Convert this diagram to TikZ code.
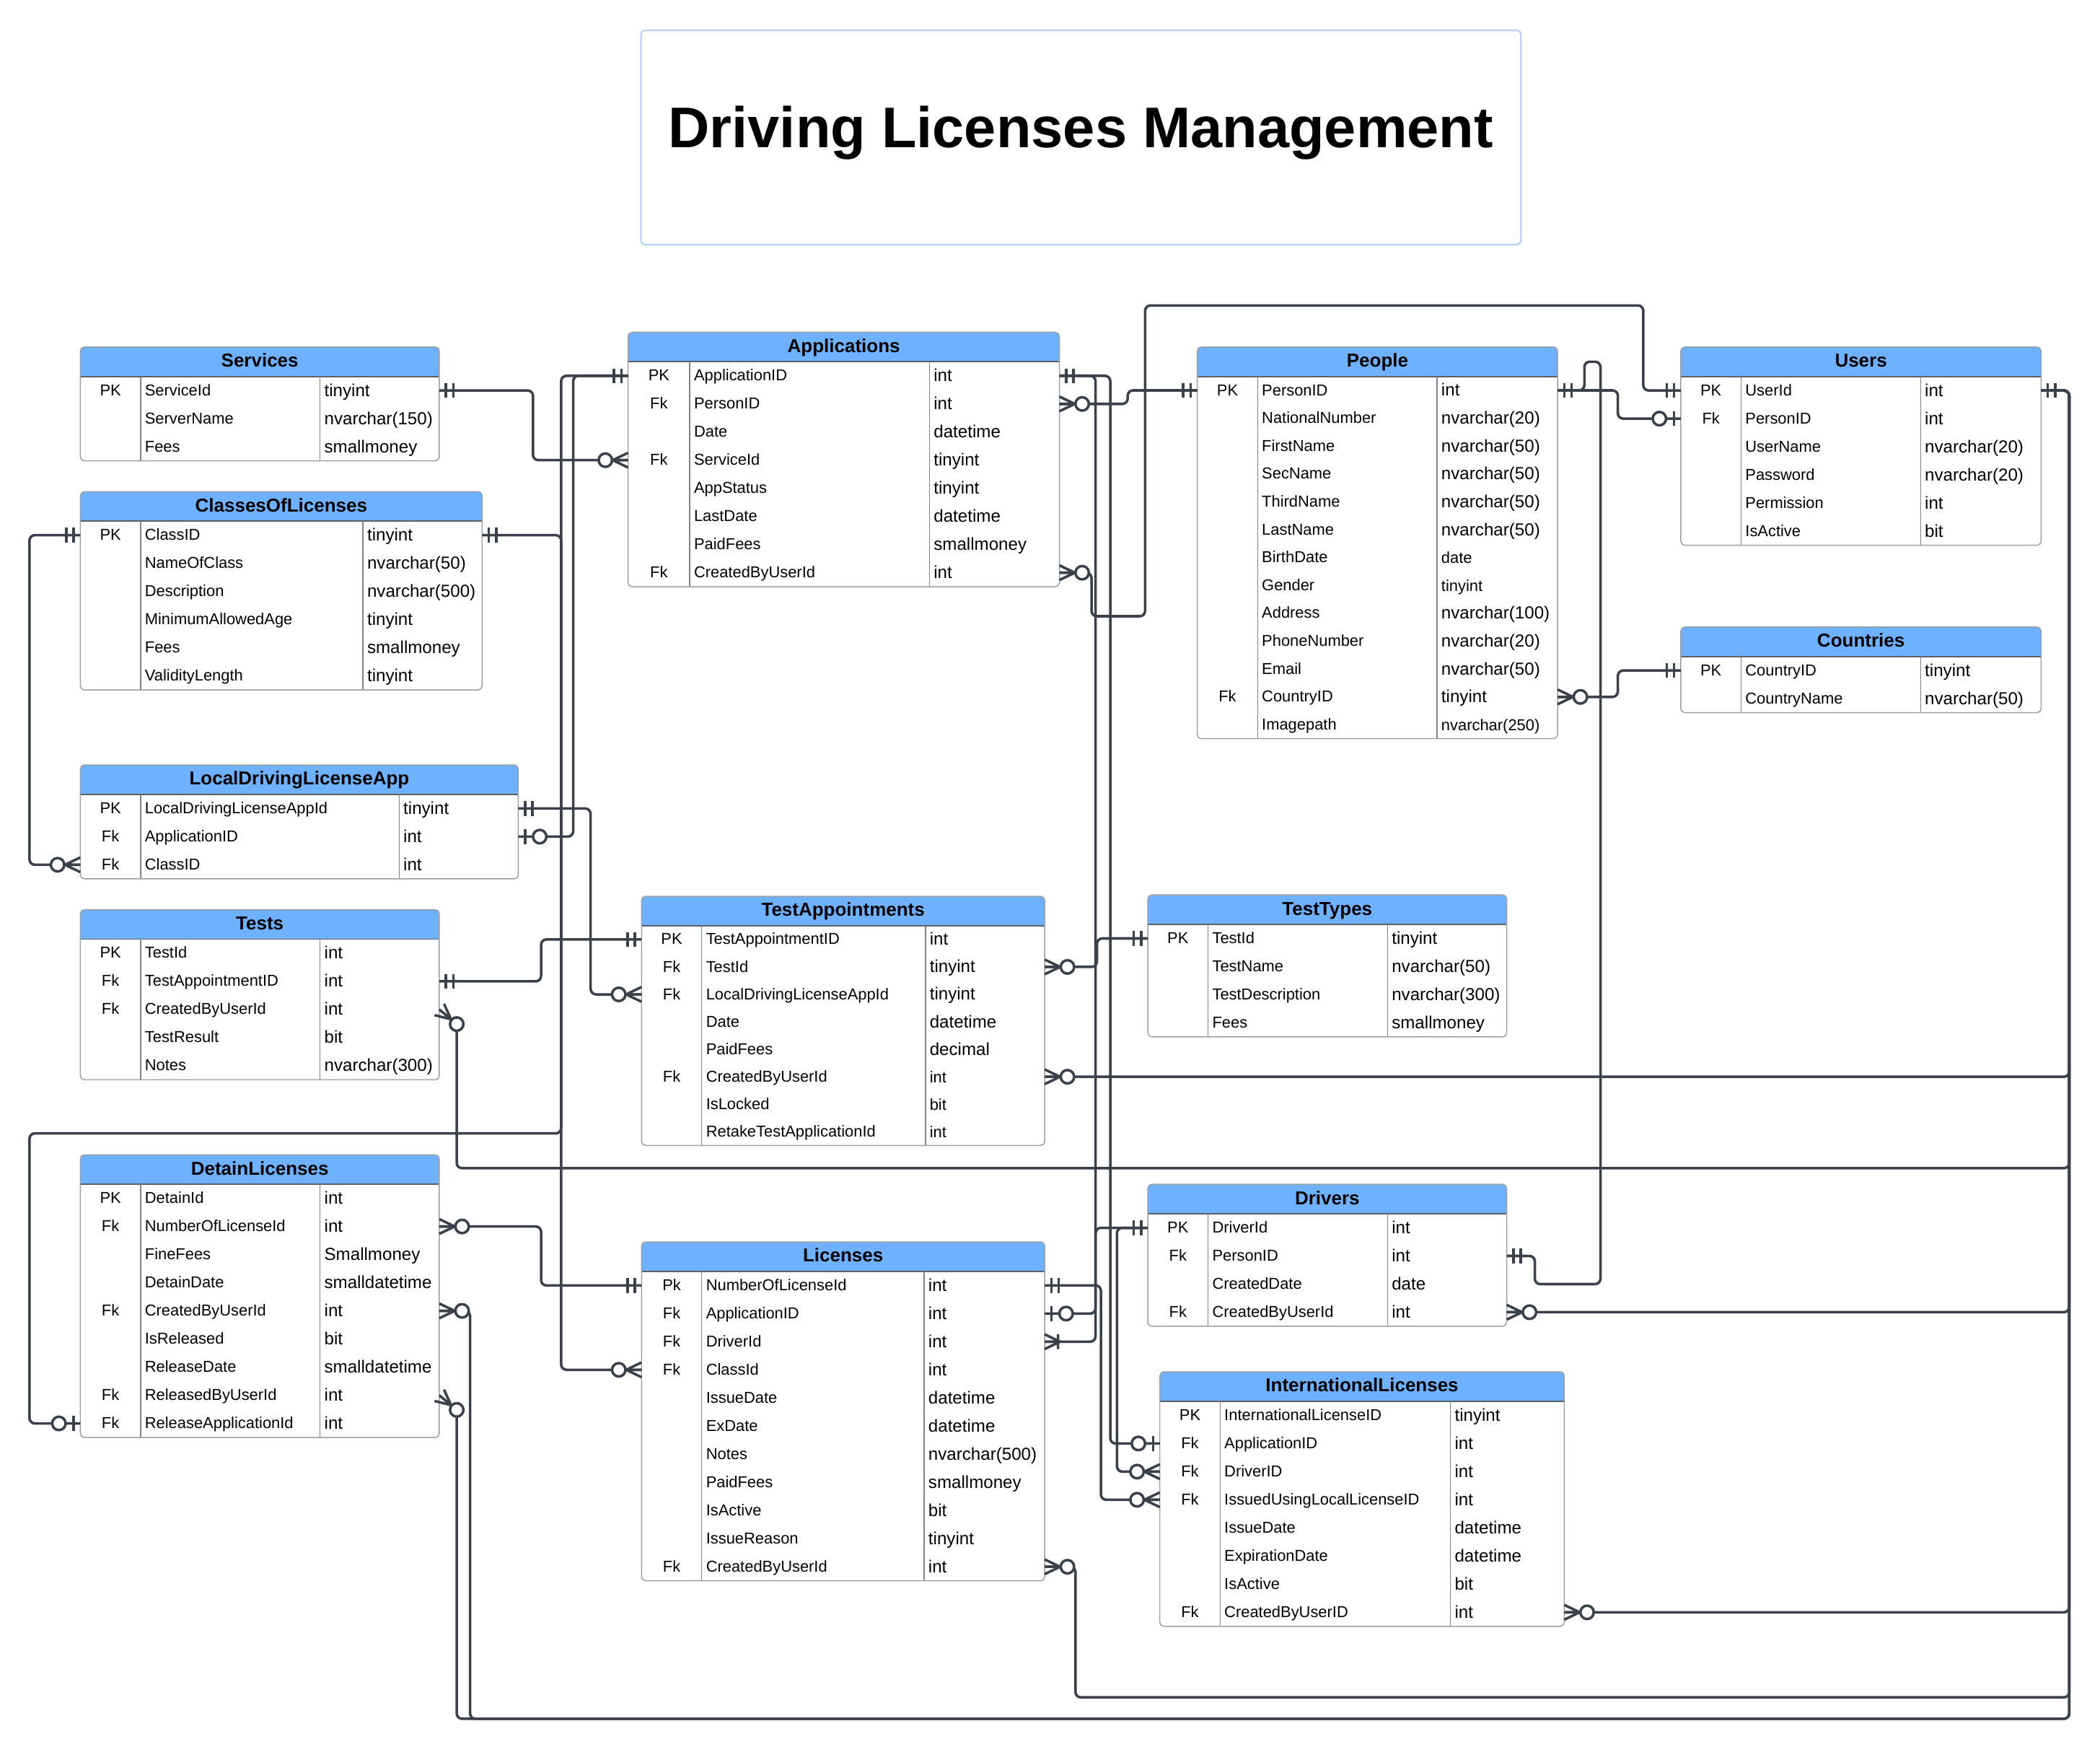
\documentclass[tikz,border=0pt]{standalone}
\usepackage{fontspec}
\setmainfont{Liberation Sans}
\definecolor{hdrblue}{HTML}{6DB1FF}
\definecolor{lnk}{HTML}{3A414B}
\definecolor{tborder}{HTML}{9AA0A6}
\definecolor{hdrline}{HTML}{59606A}
\definecolor{colline}{HTML}{7D838B}
\definecolor{titlebord}{HTML}{B5D5F8}

\newcommand\nk{}
\newcommand\smt[1]{{\fontsize{11.8}{13}\selectfont #1}}
\def\rh{21}

\tikzset{
  conn/.style={draw=lnk, line width=1.9pt, rounded corners=4pt, line join=round},
  mk/.style={draw=lnk, line width=1.9pt},
  tbox/.style={draw=tborder, line width=0.8pt, rounded corners=3pt, inner sep=0pt, outer sep=0pt},
  rowbox/.style={inner sep=0pt, outer sep=0pt, draw=none},
  hdrtext/.style={font=\fontsize{14}{16}\selectfont\bfseries, inner sep=0pt, anchor=base},
  keytext/.style={font=\fontsize{11.8}{13}\selectfont, inner sep=0pt, anchor=base},
  fldtext/.style={font=\fontsize{11.8}{13}\selectfont, inner sep=0pt, anchor=base west},
  typtext/.style={font=\fontsize{13}{15}\selectfont, inner sep=0pt, anchor=base west},
  mone/.pic={\draw[mk] (5,-5.5) -- (5,5.5) (10.5,-5.5) -- (10.5,5.5);},
  zmany/.pic={\draw[mk] (0,-5.5) -- (11.5,0) -- (0,5.5) (0,0) -- (11.5,0); \draw[mk,fill=white] (17,0) circle[radius=5pt];},
  zone/.pic={\draw[mk] (5,-5.5) -- (5,5.5); \draw[mk,fill=white] (16,0) circle[radius=5pt];},
  omany/.pic={\draw[mk] (0,-5.5) -- (11.5,0) -- (0,5.5) (0,0) -- (11.5,0) (10,-5.5) -- (10,5.5);},
}

% #1 id #2 x0 #3 x1 #4 d1 #5 d2 #6 ytop #7 nrows #8 title #9 rows
\newcommand\ertable[9]{%
  \pgfmathsetmacro\tHB{#6+22}%
  \pgfmathsetmacro\tBT{\tHB+#7*\rh}%
  \pgfmathsetmacro\tW{#3-#2}%
  \pgfmathsetmacro\tHt{\tBT-#6}%
  \pgfmathsetmacro\tXC{(#2+#3)/2}%
  \pgfmathsetmacro\tKX{(#2+#4)/2}%
  \begin{scope}
    \clip[rounded corners=3pt] (#2,#6) rectangle (#3,\tBT);
    \fill[white] (#2,#6) rectangle (#3,\tBT);
    \fill[hdrblue] (#2,#6) rectangle (#3,\tHB);
  \end{scope}
  \draw[hdrline, line width=0.9pt] (#2,\tHB) -- (#3,\tHB);
  \draw[colline, line width=0.7pt] (#4,\tHB) -- (#4,\tBT) (#5,\tHB) -- (#5,\tBT);
  \node[tbox, minimum width=\tW pt, minimum height=\tHt pt, anchor=north west] (#1) at (#2,#6) {};
  \node[hdrtext] (#1-h) at (\tXC,#6+15) {#8};
  \foreach \kA/\fA/\tA [count=\i] in {#9} {%
    \pgfmathsetmacro\tYY{\tHB+(\i-0.5)*\rh}%
    \node[rowbox, minimum width=\tW pt, minimum height=\rh pt] (#1-\i) at (\tXC,\tYY) {};
    \node[keytext] (#1-\i-k) at (\tKX,\tYY+3.8) {\kA};
    \node[fldtext] (#1-\i-f) at (#4+3,\tYY+3.8) {\fA};
    \node[typtext] (#1-\i-t) at (#5+3,\tYY+4.3) {\tA};
  }%
}

\begin{document}
\begin{tikzpicture}[x=1pt,y=-1pt]
\useasboundingbox (0,0) rectangle (1568,1304);
\fill[white] (0,0) rectangle (1568,1304);

% title
\node[draw=titlebord, line width=1.2pt, rounded corners=3pt, minimum width=657pt, minimum height=160pt, anchor=north west, inner sep=0pt] (title) at (478,22) {};
\node[font=\fontsize{42.8}{50}\selectfont\bfseries, anchor=base, inner sep=0pt] (title-t) at (807,110) {Driving Licenses Management};

% tables
\ertable{svc}{60}{328}{105}{239}{259}{3}{Services}{PK/ServiceId/tinyint, \nk/ServerName/nvarchar(150), \nk/Fees/smallmoney}
\ertable{cls}{60}{360}{105}{271}{367}{6}{ClassesOfLicenses}{PK/ClassID/tinyint, \nk/NameOfClass/nvarchar(50), \nk/Description/nvarchar(500), \nk/MinimumAllowedAge/tinyint, \nk/Fees/smallmoney, \nk/ValidityLength/tinyint}
\ertable{ldla}{60}{387}{105}{298}{571}{3}{LocalDrivingLicenseApp}{PK/LocalDrivingLicenseAppId/tinyint, Fk/ApplicationID/int, Fk/ClassID/int}
\ertable{tst}{60}{328}{105}{239}{679}{5}{Tests}{PK/TestId/int, Fk/TestAppointmentID/int, Fk/CreatedByUserId/int, \nk/TestResult/bit, \nk/Notes/nvarchar(300)}
\ertable{det}{60}{328}{105}{239}{862}{9}{DetainLicenses}{PK/DetainId/int, Fk/NumberOfLicenseId/int, \nk/FineFees/Smallmoney, \nk/DetainDate/smalldatetime, Fk/CreatedByUserId/int, \nk/IsReleased/bit, \nk/ReleaseDate/smalldatetime, Fk/ReleasedByUserId/int, Fk/ReleaseApplicationId/int}
\ertable{app}{469}{791}{515}{694}{248}{8}{Applications}{PK/ApplicationID/int, Fk/PersonID/int, \nk/Date/datetime, Fk/ServiceId/tinyint, \nk/AppStatus/tinyint, \nk/LastDate/datetime, \nk/PaidFees/smallmoney, Fk/CreatedByUserId/int}
\def\rh{20.5}
\ertable{ta}{479}{780}{524}{691}{669}{8}{TestAppointments}{PK/TestAppointmentID/int, Fk/TestId/tinyint, Fk/LocalDrivingLicenseAppId/tinyint, \nk/Date/datetime, \nk/PaidFees/decimal, Fk/CreatedByUserId/\smt{int}, \nk/IsLocked/\smt{bit}, \nk/RetakeTestApplicationId/\smt{int}}
\def\rh{21}
\ertable{lic}{479}{780}{524}{690}{927}{11}{Licenses}{Pk/NumberOfLicenseId/int, Fk/ApplicationID/int, Fk/DriverId/int, Fk/ClassId/int, \nk/IssueDate/datetime, \nk/ExDate/datetime, \nk/Notes/nvarchar(500), \nk/PaidFees/smallmoney, \nk/IsActive/bit, \nk/IssueReason/tinyint, Fk/CreatedByUserId/int}
\def\rh{20.8}
\ertable{ppl}{894}{1163}{939}{1073}{259}{13}{People}{PK/PersonID/int, \nk/NationalNumber/nvarchar(20), \nk/FirstName/nvarchar(50), \nk/SecName/nvarchar(50), \nk/ThirdName/nvarchar(50), \nk/LastName/nvarchar(50), \nk/BirthDate/\smt{date}, \nk/Gender/\smt{tinyint}, \nk/Address/nvarchar(100), \nk/PhoneNumber/nvarchar(20), \nk/Email/nvarchar(50), Fk/CountryID/tinyint, \nk/Imagepath/\smt{nvarchar(250)}}
\def\rh{21}
\ertable{usr}{1255}{1524}{1300}{1434}{259}{6}{Users}{PK/UserId/int, Fk/PersonID/int, \nk/UserName/nvarchar(20), \nk/Password/nvarchar(20), \nk/Permission/int, \nk/IsActive/bit}
\ertable{cty}{1255}{1524}{1300}{1434}{468}{2}{Countries}{PK/CountryID/tinyint, \nk/CountryName/nvarchar(50)}
\ertable{tt}{857}{1125}{902}{1036}{668}{4}{TestTypes}{PK/TestId/tinyint, \nk/TestName/nvarchar(50), \nk/TestDescription/nvarchar(300), \nk/Fees/smallmoney}
\ertable{drv}{857}{1125}{902}{1036}{884}{4}{Drivers}{PK/DriverId/int, Fk/PersonID/int, \nk/CreatedDate/date, Fk/CreatedByUserId/int}
\ertable{il}{866}{1168}{911}{1083}{1024}{8}{InternationalLicenses}{PK/InternationalLicenseID/tinyint, Fk/ApplicationID/int, Fk/DriverID/int, Fk/IssuedUsingLocalLicenseID/int, \nk/IssueDate/datetime, \nk/ExpirationDate/datetime, \nk/IsActive/bit, Fk/CreatedByUserID/int}

% free ends of the diagonal markers
\coordinate (tst-3c) at ([shift={(13,10.9)}]tst-3.east);
\coordinate (det-8c) at ([shift={(13,10.9)}]det-8.east);

% connectors
\draw[conn] (svc-1.east) -| (app-4.west -| 398,0) -- (app-4.west);
\draw[conn] (cls-1.east) -| (lic-4.west -| 419,0) -- (lic-4.west);
\draw[conn] (app-1.west) -| (ldla-2.east -| 428,0) -- (ldla-2.east);
\draw[conn] (app-1.west) -| (419,846) -| (det-9.west -| 22,0) -- (det-9.west);
\draw[conn] (lic-1.west) -| (det-2.east -| 404,0) -- (det-2.east);
\draw[conn] (ldla-1.east) -| (ta-3.west -| 441,0) -- (ta-3.west);
\draw[conn] (tst-2.east) -| (ta-1.west -| 404,0) -- (ta-1.west);
\draw[conn] (cls-1.west) -| (ldla-3.west -| 22,0) -- (ldla-3.west);
\draw[conn] (app-2.east) -| (ppl-1.west -| 842,0) -- (ppl-1.west);
\draw[conn] (app-8.east) -| (815,460) -| (855,228) -| (usr-1.west -| 1227,0) -- (usr-1.west);
\draw[conn] (app-1.east) -| (lic-2.east -| 818,0) -- (lic-2.east);
\draw[conn] (lic-1.east) -| (il-4.west -| 822,0) -- (il-4.west);
\draw[conn] (app-1.east) -| (il-2.west -| 829,0) -- (il-2.west);
\draw[conn] (drv-1.west) -| (lic-3.east -| 818,0) -- (lic-3.east);
\draw[conn] (drv-1.west) -| (il-3.west -| 834,0) -- (il-3.west);
\draw[conn] (ta-2.east) -| (tt-1.west -| 819,0) -- (tt-1.west);
\draw[conn] (ta-6.east) -| (usr-1.east -| 1545,0) -- (usr-1.east);
\draw[conn] (tst-3c) -- (341,872) -| (usr-1.east -| 1545,0) -- (usr-1.east);
\draw[conn] (drv-4.east) -| (usr-1.east -| 1545,0) -- (usr-1.east);
\draw[conn] (il-8.east) -| (usr-1.east -| 1545,0) -- (usr-1.east);
\draw[conn] (lic-11.east) -| (803,1267) -| (usr-1.east -| 1545,0) -- (usr-1.east);
\draw[conn] (det-5.east) -| (351,1283) -| (usr-1.east -| 1545,0) -- (usr-1.east);
\draw[conn] (det-8c) -- (341,1283) -| (usr-1.east -| 1545,0) -- (usr-1.east);
\draw[conn] (ppl-1.east) -| (usr-2.west -| 1208,0) -- (usr-2.west);
\draw[conn] (drv-2.east) -| (1146,958.5) -| (1195,270) -| (ppl-1.east -| 1183,0) -- (ppl-1.east);
\draw[conn] (ppl-12.east) -| (cty-1.west -| 1208,0) -- (cty-1.west);

% end markers
\pic at (svc-1.east) {mone};
\pic[rotate=180] at (app-4.west) {zmany};
\pic at (cls-1.east) {mone};
\pic[rotate=180] at (lic-4.west) {zmany};
\pic[rotate=180] at (app-1.west) {mone};
\pic at (ldla-2.east) {zone};
\pic[rotate=180] at (det-9.west) {zone};
\pic[rotate=180] at (lic-1.west) {mone};
\pic at (det-2.east) {zmany};
\pic at (ldla-1.east) {mone};
\pic[rotate=180] at (ta-3.west) {zmany};
\pic at (tst-2.east) {mone};
\pic[rotate=180] at (ta-1.west) {mone};
\pic[rotate=180] at (cls-1.west) {mone};
\pic[rotate=180] at (ldla-3.west) {zmany};
\pic at (app-2.east) {zmany};
\pic[rotate=180] at (ppl-1.west) {mone};
\pic at (app-8.east) {zmany};
\pic[rotate=180] at (usr-1.west) {mone};
\pic at (app-1.east) {mone};
\pic at (lic-2.east) {zone};
\pic at (lic-1.east) {mone};
\pic[rotate=180] at (il-4.west) {zmany};
\pic[rotate=180] at (il-2.west) {zone};
\pic[rotate=180] at (drv-1.west) {mone};
\pic at (lic-3.east) {omany};
\pic[rotate=180] at (il-3.west) {zmany};
\pic at (ta-2.east) {zmany};
\pic[rotate=180] at (tt-1.west) {mone};
\pic at (usr-1.east) {mone};
\pic at (ta-6.east) {zmany};
\pic[rotate=-40] at (tst-3.east) {zmany};
\pic at (drv-4.east) {zmany};
\pic at (il-8.east) {zmany};
\pic at (lic-11.east) {zmany};
\pic at (det-5.east) {zmany};
\pic[rotate=-40] at (det-8.east) {zmany};
\pic at (ppl-1.east) {mone};
\pic[rotate=180] at (usr-2.west) {zone};
\pic at (drv-2.east) {mone};
\pic at (ppl-12.east) {zmany};
\pic[rotate=180] at (cty-1.west) {mone};
\end{tikzpicture}
\end{document}
